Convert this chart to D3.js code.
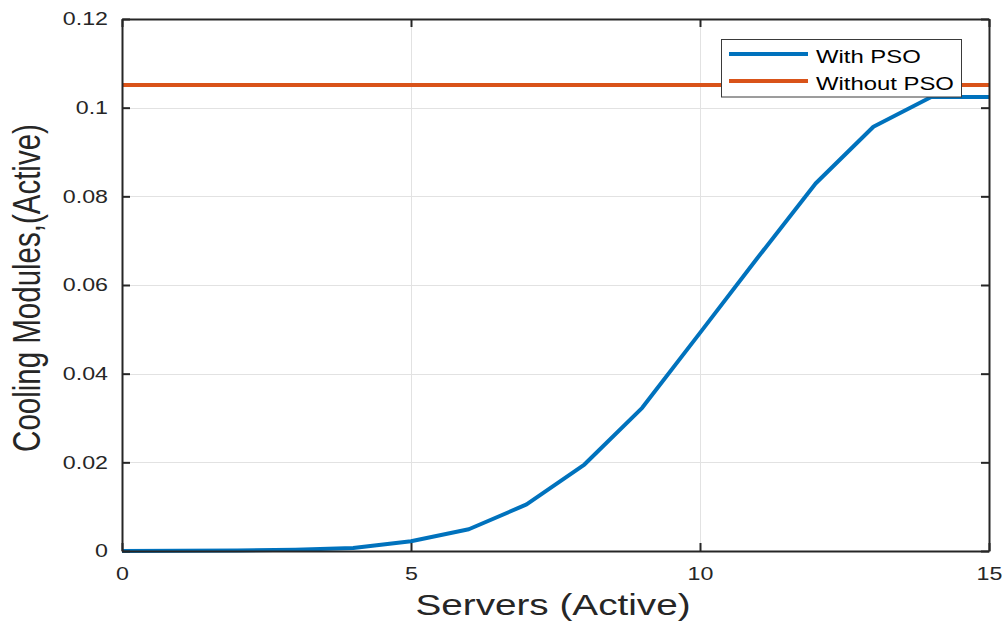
<!DOCTYPE html>
<html>
<head>
<meta charset="utf-8">
<script src="https://cdn.jsdelivr.net/npm/d3@7"></script>
<style>
  html, body { margin: 0; padding: 0; background: #fff; }
  svg { display: block; font-family: "Liberation Sans", Arial, Helvetica, sans-serif; }
</style>
</head>
<body>
<svg id="chart" width="1002" height="622"></svg>
<script>
// Active servers (x axis)
const servers = [0, 1, 2, 3, 4, 5, 6, 7, 8, 9, 10, 11, 12, 13, 14, 15];
// Active cooling modules with PSO scheduling
const withPSO = [0, 0.00003, 0.0001, 0.0003, 0.0007, 0.0022, 0.0049, 0.0105, 0.0195,
                 0.0323, 0.0492, 0.0662, 0.0829, 0.0957, 0.1024, 0.1024];
// Active cooling modules without PSO (constant level)
const withoutPSO = servers.map(() => 0.1051);

const xTicks = [0, 5, 10, 15];
const yTicks = [0, 0.02, 0.04, 0.06, 0.08, 0.1, 0.12];
const yTickLabels = ["0", "0.02", "0.04", "0.06", "0.08", "0.1", "0.12"];

const seriesNames = ["With PSO", "Without PSO"];
const seriesColors = ["#0072BD", "#D95319"];

const W = 1002, H = 622;
const plot = { left: 122, right: 989, top: 19, bottom: 551 };
const stretch = 1.29;          // horizontal text stretch
const axisColor = "#262626";

const svg = d3.select("#chart");

const x = d3.scaleLinear().domain([0, 15]).range([plot.left, plot.right]);
const y = d3.scaleLinear().domain([0, 0.12]).range([plot.bottom, plot.top]);

// Grid
const grid = svg.append("g").attr("stroke", "#e2e2e2").attr("stroke-width", 1);
grid.selectAll("line.gx").data(xTicks.slice(1, -1)).join("line")
  .attr("x1", d => Math.round(x(d)) + 0.5).attr("x2", d => Math.round(x(d)) + 0.5)
  .attr("y1", plot.top).attr("y2", plot.bottom);
grid.selectAll("line.gy").data(yTicks.slice(1, -1)).join("line")
  .attr("y1", d => Math.round(y(d)) + 0.5).attr("y2", d => Math.round(y(d)) + 0.5)
  .attr("x1", plot.left).attr("x2", plot.right);

// Series lines
const line = d3.line().x((d, i) => x(servers[i])).y(d => y(d));
svg.append("path").datum(withoutPSO)
  .attr("fill", "none").attr("stroke", seriesColors[1]).attr("stroke-width", 4)
  .attr("d", line);
svg.append("path").datum(withPSO)
  .attr("fill", "none").attr("stroke", seriesColors[0]).attr("stroke-width", 4)
  .attr("stroke-linejoin", "round")
  .attr("d", line);

// Axes (ticks pointing inward, box on all sides)
const tickLen = 8;
const axBottom = svg.append("g").attr("transform", `translate(0,${plot.bottom})`)
  .call(d3.axisBottom(x).tickValues(xTicks).tickSizeInner(-tickLen).tickSizeOuter(0).tickFormat(d3.format("d")));
const axTop = svg.append("g").attr("transform", `translate(0,${plot.top})`)
  .call(d3.axisTop(x).tickValues(xTicks).tickSizeInner(-tickLen).tickSizeOuter(0).tickFormat(""));
const axLeft = svg.append("g").attr("transform", `translate(${plot.left},0)`)
  .call(d3.axisLeft(y).tickValues(yTicks).tickSizeInner(-tickLen).tickSizeOuter(0)
    .tickFormat((d, i) => yTickLabels[i]));
const axRight = svg.append("g").attr("transform", `translate(${plot.right},0)`)
  .call(d3.axisRight(y).tickValues(yTicks).tickSizeInner(-tickLen).tickSizeOuter(0).tickFormat(""));

[axBottom, axTop, axLeft, axRight].forEach(a => {
  a.select(".domain").attr("stroke", axisColor).attr("stroke-width", 2);
  a.selectAll(".tick line").attr("stroke", axisColor).attr("stroke-width", 2);
  a.selectAll("text").attr("fill", axisColor).attr("font-size", 18);
});

axBottom.selectAll(".tick text")
  .attr("y", null).attr("dy", null)
  .attr("transform", `translate(0,29) scale(${stretch},1)`);

axLeft.selectAll(".tick text")
  .attr("x", null).attr("dy", "0.33em")
  .attr("text-anchor", "end")
  .attr("transform", `translate(-14,0) scale(${stretch},1)`);

// Axis titles
svg.append("text")
  .attr("transform", `translate(553,615) scale(${stretch},1)`)
  .attr("text-anchor", "middle").attr("font-size", 30).attr("fill", axisColor)
  .text("Servers (Active)");

svg.append("text")
  .attr("transform", `translate(40,288) scale(${stretch},1) rotate(-90)`)
  .attr("text-anchor", "middle").attr("font-size", 29.5).attr("fill", axisColor)
  .text("Cooling Modules,(Active)");

// Legend
const legend = svg.append("g");
legend.append("rect")
  .attr("x", 721.5).attr("y", 39.5).attr("width", 240).attr("height", 57.5)
  .attr("fill", "#fff").attr("stroke", "#3a3a3a").attr("stroke-width", 1);
const rowsY = [54, 81];
seriesNames.forEach((name, i) => {
  legend.append("line")
    .attr("x1", 729).attr("x2", 808).attr("y1", rowsY[i]).attr("y2", rowsY[i])
    .attr("stroke", seriesColors[i]).attr("stroke-width", 4);
  legend.append("text")
    .attr("transform", `translate(816,${rowsY[i] + 8.5}) scale(${stretch},1)`)
    .attr("font-size", 18.5).attr("fill", "#000")
    .text(name);
});
</script>
</body>
</html>
